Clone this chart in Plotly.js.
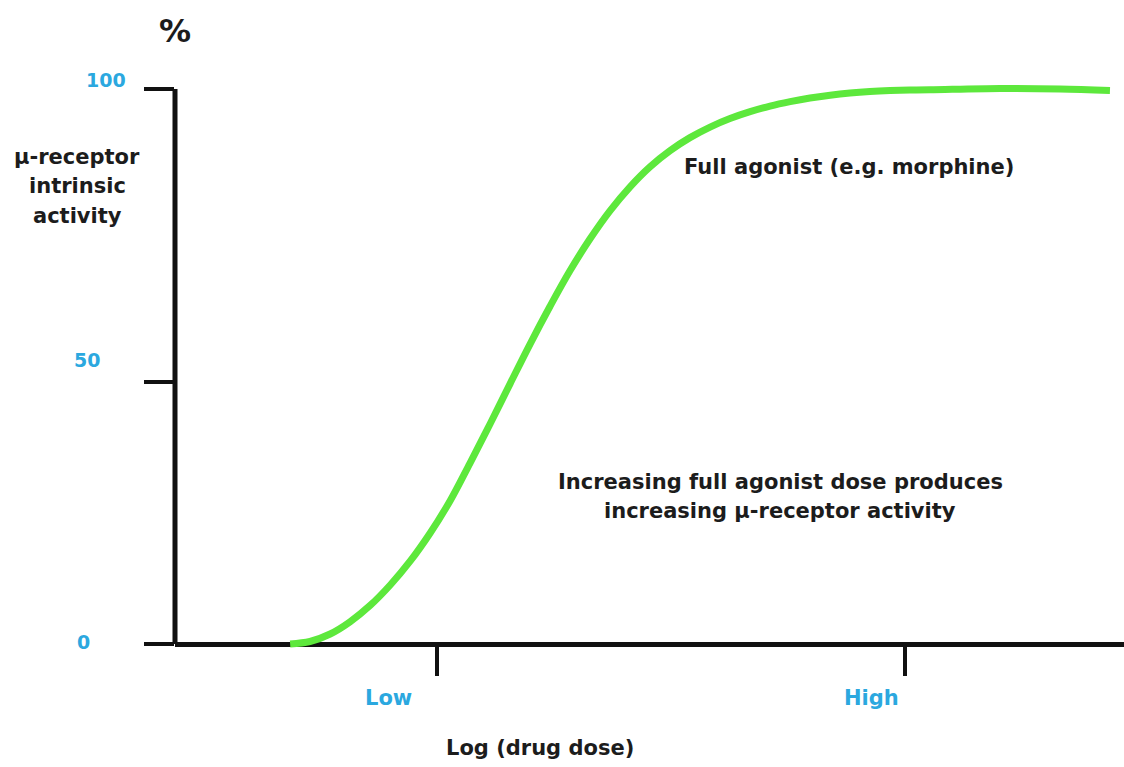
<!DOCTYPE html>
<html><head><meta charset="utf-8">
<script src="https://cdn.plot.ly/plotly-3.0.1.min.js"></script>
<style>html,body{margin:0;padding:0;background:#fff}#chart{width:1124px;height:767px}</style>
</head><body><div id="chart"></div>
<script>
// Dose-response curve (x: log dose, arbitrary units with Low = 1, High = 3; y: % activity)
const logDose  = [0.372, 0.457, 0.543, 0.628, 0.714, 0.799, 0.885, 0.970, 1.056, 1.141, 1.227, 1.312,
                  1.397, 1.483, 1.568, 1.654, 1.739, 1.825, 1.910, 1.996, 2.081, 2.167, 2.252, 2.338,
                  2.423, 2.509, 2.594, 2.680, 2.765, 2.850, 2.936, 3.021, 3.107, 3.406, 3.662, 3.876];
const activity = [0,     0.45,  1.80,  4.00,  6.95,  10.59, 14.92, 19.96, 25.82, 32.61, 39.68, 46.88,
                  54.00, 60.85, 67.24, 73.01, 78.05, 82.38, 85.98, 88.90, 91.24, 93.14, 94.67, 95.91,
                  96.92, 97.73, 98.38, 98.88, 99.26, 99.53, 99.71, 99.82, 99.86, 100.09, 100.0, 99.73];
const doseTickVals = [1, 3];
const doseTickText = ['Low', 'High'];
const activityTickVals = [0, 47.2, 100];
const activityTickText = ['0', '50', '100'];
const curveName = 'Full agonist (e.g. morphine)';
const noteLines = ['Increasing full agonist dose produces', 'increasing \u03bc-receptor activity'];
const yTitleLines = ['\u03bc-receptor', 'intrinsic', 'activity'];
const xTitle = 'Log (drug dose)';
const unitLabel = '%';

const xMin = -0.12, xMax = 3.936;
const yMin = -1.98, yMax = 102.52;
const FONT = 'DejaVu Sans, Liberation Sans, Arial, sans-serif';
const DARK = '#1c1c1c';
const BLUE = '#2ba8df';
const GREEN = '#5de83c';

const xTickShift = [-49, -34];
const yTickShift = [[-92, 2], [-88, 22], [-69, 9]];

const annotations = [];
doseTickText.forEach((t, i) => annotations.push({
  text: '<b>' + t + '</b>', xref: 'x', yref: 'paper', x: doseTickVals[i], y: -0.074,
  xshift: xTickShift[i], xanchor: 'center', yanchor: 'middle', showarrow: false,
  font: {family: FONT, size: 21, color: BLUE}
}));
activityTickText.forEach((t, i) => annotations.push({
  text: '<b>' + t + '</b>', xref: 'paper', yref: 'y', x: 0, y: activityTickVals[i],
  xshift: yTickShift[i][0], yshift: yTickShift[i][1], xanchor: 'center', yanchor: 'middle', showarrow: false,
  font: {family: FONT, size: 19, color: BLUE}
}));
annotations.push({
  text: '<b>' + curveName + '</b>', xref: 'x', yref: 'y', x: 2.761, y: 85.9,
  xanchor: 'center', yanchor: 'middle', showarrow: false, font: {family: FONT, size: 21, color: DARK}
});
noteLines.forEach((s, i) => annotations.push({
  text: '<b>' + s + '</b>', xref: 'x', yref: 'y', x: 2.466, y: 29.2, yshift: -29 * i,
  xanchor: 'center', yanchor: 'middle', showarrow: false, font: {family: FONT, size: 21, color: DARK}
}));
yTitleLines.forEach((s, i) => annotations.push({
  text: '<b>' + s + '</b>', xref: 'paper', yref: 'paper', x: -0.103, y: 0.859, yshift: -29.5 * i,
  xanchor: 'center', yanchor: 'middle', showarrow: false, font: {family: FONT, size: 21, color: DARK}
}));
annotations.push({
  text: '<b>' + xTitle + '</b>', xref: 'x', yref: 'paper', x: 1.44, y: -0.160,
  xanchor: 'center', yanchor: 'middle', showarrow: false, font: {family: FONT, size: 21, color: DARK}
});
annotations.push({
  text: '<b>' + unitLabel + '</b>', xref: 'paper', yref: 'paper', x: 0, y: 1.076,
  xanchor: 'center', yanchor: 'middle', showarrow: false, font: {family: FONT, size: 32, color: DARK}
});

const trace = {
  x: logDose, y: activity, type: 'scatter', mode: 'lines', name: curveName,
  line: {color: GREEN, width: 7, shape: 'spline', smoothing: 1}, hoverinfo: 'skip'
};

const layout = {
  width: 1124, height: 767,
  margin: {l: 175, r: 0, t: 75, b: 112, pad: 0},
  paper_bgcolor: '#ffffff', plot_bgcolor: '#ffffff',
  showlegend: false,
  xaxis: {
    range: [xMin, xMax], anchor: 'free', position: (0 - yMin) / (yMax - yMin),
    showline: true, linewidth: 5, linecolor: '#111',
    ticks: 'outside', ticklen: 29, tickwidth: 4, tickcolor: '#111',
    tickvals: doseTickVals, ticktext: doseTickText, showticklabels: false,
    showgrid: false, zeroline: false, layer: 'below traces', fixedrange: true
  },
  yaxis: {
    range: [yMin, yMax], showline: false,
    ticks: 'outside', ticklen: 30, tickwidth: 4, tickcolor: '#111',
    tickvals: activityTickVals, ticktext: activityTickText, showticklabels: false,
    showgrid: false, zeroline: false, layer: 'below traces', fixedrange: true
  },
  shapes: [{
    type: 'line', xref: 'paper', yref: 'y', x0: 0, x1: 0, y0: 0, y1: 100,
    line: {color: '#111', width: 5}, layer: 'below'
  }],
  annotations: annotations
};

Plotly.newPlot('chart', [trace], layout, {displayModeBar: false, staticPlot: true});
</script>
</body></html>
